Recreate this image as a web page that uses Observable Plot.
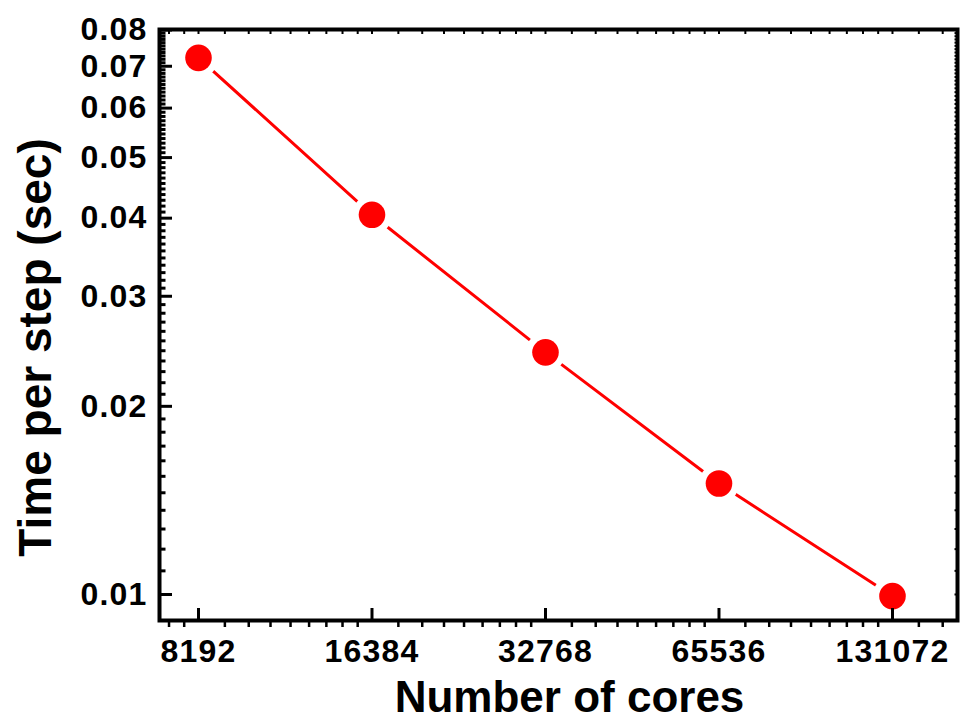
<!DOCTYPE html>
<html>
<head>
<meta charset="utf-8">
<script src="https://cdn.jsdelivr.net/npm/d3@7"></script>
<script src="https://cdn.jsdelivr.net/npm/@observablehq/plot@0.6"></script>
<style>
  html, body { margin: 0; padding: 0; background: #fff; }
  #chart svg { display: block; }
</style>
</head>
<body>
<div id="chart"></div>
<script>
// ---- data ----
const cores = [8192, 16384, 32768, 65536, 131072];
const timePerStep = [0.0722, 0.0405, 0.0244, 0.01505, 0.00994];

const xTickValues = [8192, 16384, 32768, 65536, 131072];
const xTickLabels = ["8192", "16384", "32768", "65536", "131072"];
const yTickValues = [0.01, 0.02, 0.03, 0.04, 0.05, 0.06, 0.07, 0.08];
const yTickLabels = ["0.01", "0.02", "0.03", "0.04", "0.05", "0.06", "0.07", "0.08"];

const xTitle = "Number of cores";
const yTitle = "Time per step (sec)";

// ---- derived ----
const data = cores.map((c, i) => ({cores: c, time: timePerStep[i]}));
const xLabelOf = new Map(xTickValues.map((v, i) => [v, xTickLabels[i]]));
const yLabelOf = new Map(yTickValues.map((v, i) => [v, yTickLabels[i]]));

const xDomain = [7010, 169950];
const yDomain = [0.009086, 0.08015];

// minor ticks: 8 linear subdivisions per octave on x, 10 per major step on y
const xEdges = [4096, ...xTickValues, 262144];
const xMinor = [];
for (let k = 0; k < xEdges.length - 1; k++) {
  const a = xEdges[k], b = xEdges[k + 1];
  for (let i = 1; i <= 8; i++) xMinor.push(a + i * (b - a) / 9);
}
const xMinorIn = xMinor.filter(v => v > xDomain[0] * 1.01 && v < xDomain[1]);
const yMinor = [];
for (let k = 0; k < yTickValues.length - 1; k++) {
  const a = yTickValues[k], b = yTickValues[k + 1];
  for (let i = 1; i <= 10; i++) yMinor.push(a + i * (b - a) / 11);
}

const fontFamily = "'Liberation Sans', Arial, Helvetica, sans-serif";

const chart = Plot.plot({
  width: 962,
  height: 720,
  marginLeft: 159,
  marginRight: 5,
  marginTop: 29,
  marginBottom: 100,
  x: {type: "log", base: 2, domain: xDomain},
  y: {type: "log", domain: yDomain},
  style: {fontFamily, fontWeight: "bold", background: "white", color: "black", overflow: "visible"},
  marks: [
    Plot.line(data, {x: "cores", y: "time", stroke: "#ff0000", strokeWidth: 3}),
    Plot.dot(data, {x: "cores", y: "time", r: 20, fill: "white"}),
    Plot.dot(data, {x: "cores", y: "time", r: 13.3, fill: "#ff0000"}),
    // tick marks
    Plot.axisY({anchor: "left", ticks: yMinor, tickSize: -6.5, text: null, label: null, strokeWidth: 3}),
    Plot.axisY({anchor: "left", ticks: yTickValues, tickSize: -13, text: null, label: null, strokeWidth: 3}),
    Plot.axisY({anchor: "right", ticks: [...yTickValues, ...yMinor], tickSize: -3.5, text: null, label: null, strokeWidth: 2}),
    Plot.axisX({anchor: "bottom", ticks: xMinorIn, tickSize: 7, text: null, label: null, strokeWidth: 2.5}),
    Plot.axisX({anchor: "bottom", ticks: xTickValues, tickSize: -12, text: null, label: null, strokeWidth: 3}),
    Plot.axisX({anchor: "top", ticks: [...xTickValues, ...xMinorIn], tickSize: -4, text: null, label: null, strokeWidth: 2}),
    // tick labels
    Plot.axisY({anchor: "left", ticks: yTickValues, tickSize: 0, tickPadding: 12, tickFormat: d => yLabelOf.get(d), fontSize: 32, label: null}),
    Plot.axisX({anchor: "bottom", ticks: xTickValues, tickSize: 0, tickPadding: 19, tickFormat: d => xLabelOf.get(d), fontSize: 32, label: null}),
    Plot.frame({stroke: "black", strokeWidth: 4}),
    // axis titles
    Plot.text([xTitle], {text: d => d, frameAnchor: "bottom", textAnchor: "middle", lineAnchor: "bottom", dx: 11, dy: 91, fontSize: 44, fontWeight: "bold", fill: "black"}),
    Plot.text([yTitle], {text: d => d, frameAnchor: "left", rotate: -90, textAnchor: "middle", lineAnchor: "bottom", dx: -109, dy: 22.5, fontSize: 46, fontWeight: "bold", fill: "black"})
  ]
});

d3.select(chart)
  .selectAll('g[aria-label="x-axis tick label"] text, g[aria-label="y-axis tick label"] text')
  .style("letter-spacing", "1.2px");

document.getElementById("chart").appendChild(chart);
</script>
</body>
</html>
